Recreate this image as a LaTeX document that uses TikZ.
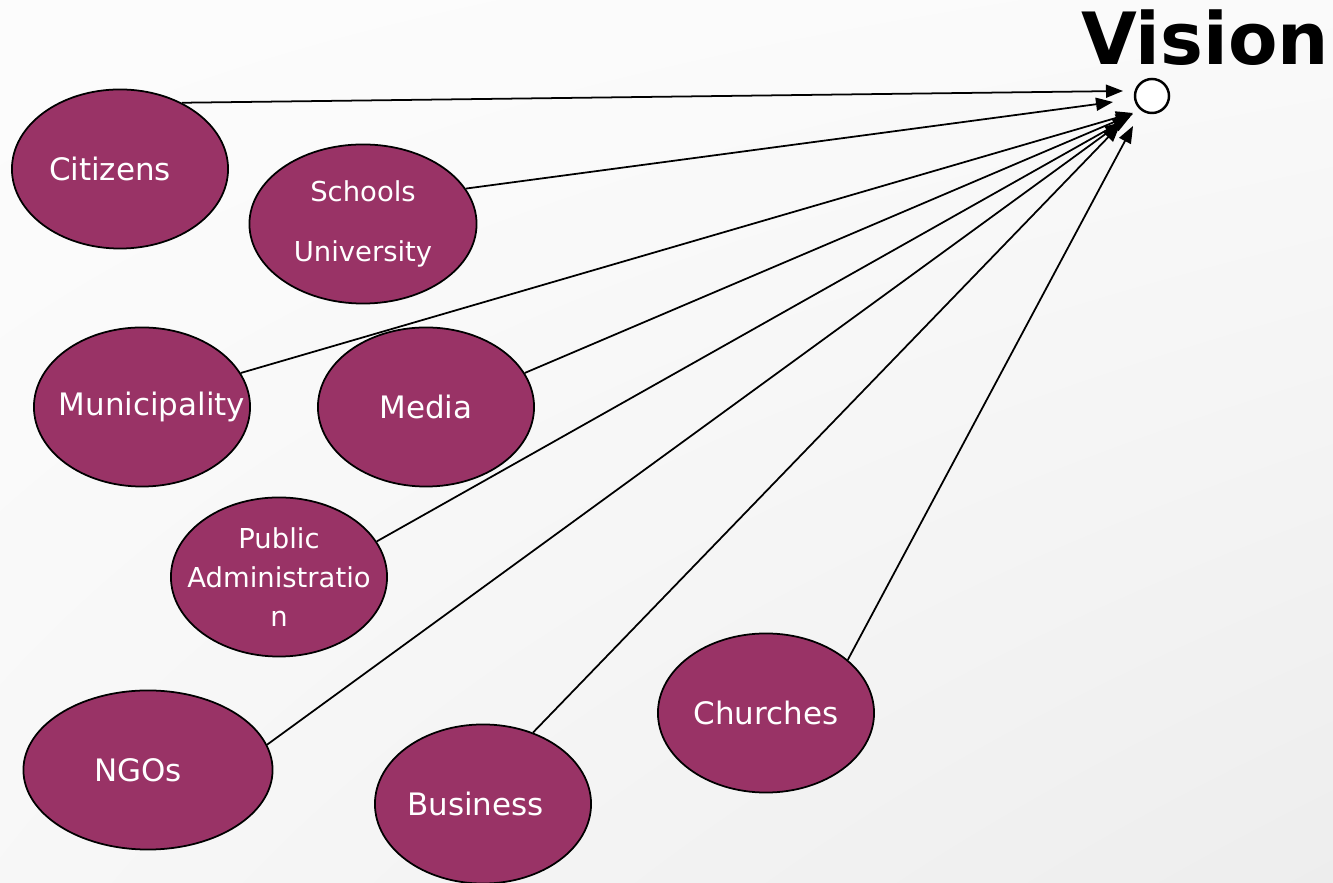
\documentclass[tikz,border=0pt]{standalone}
\usepackage{fontspec}
\setmainfont{DejaVu Sans}
\usetikzlibrary{shapes.geometric, arrows.meta, shadings}
\definecolor{plum}{HTML}{993366}

\begin{document}
\begin{tikzpicture}[
    x=0.01cm, y=-0.01cm,
    actor/.style={draw=black, ellipse, fill=plum, text=white, line width=0.5pt, minimum width=2.16cm, minimum height=1.59cm, inner xsep=-0.8cm, inner ysep=-0.3cm, align=center, font=\fontsize{8.8}{10}\selectfont},
    arrow/.style={-{Triangle[length=0.17cm, width=0.13cm]}, line width=0.5pt}
]
\shade[upper left=black!1, upper right=black!2, lower left=black!3, lower right=black!7] (0,0) rectangle (1333,883);
\useasboundingbox (0,0) rectangle (1333,883);

\node[font=\fontsize{20.5}{24}\selectfont\bfseries] (title) at (1205,38) {Vision};
\node[draw, circle, fill=white, minimum size=0.34cm, inner sep=0pt, line width=0.7pt] (goal) at (1152,96) {};

\node[actor] (cit) at (120,169) {Citizens\hspace*{0.2cm}};
\node[actor, minimum width=2.27cm, font=\fontsize{7.8}{17}\selectfont] (sch) at (363,224) {Schools\\University};
\node[actor] (mun) at (142,407) {\hspace*{0.2cm}Municipality};
\node[actor] (med) at (426,407) {Media};
\node[actor, font=\fontsize{7.8}{11.2}\selectfont] (pub) at (279,577) {Public\\Administratio\\n};
\node[actor, minimum width=2.49cm] (ngo) at (148,770) {NGOs\hspace*{0.2cm}};
\node[actor] (bus) at (483,804) {Business\hspace*{0.15cm}};
\node[actor] (chu) at (766,713) {Churches};

% arrow tips round the goal
\coordinate (tCit) at (1123,91);
\coordinate (tSch) at (1113,102);
\coordinate (tMun) at (1133,113);
\coordinate (tMed) at (1133,114);
\coordinate (tPub) at (1130,117);
\coordinate (tNgo) at (1122,122);
\coordinate (tBus) at (1120,125);
\coordinate (tChu) at (1133,126);

\draw[arrow] (cit.47) -- (tCit);
\draw[arrow] (sch.19) -- (tSch);
\draw[arrow] (mun.19) -- (tMun);
\draw[arrow] (med.19) -- (tMed);
\draw[arrow] (pub.20) -- (tPub);
\draw[arrow] (ngo.12) -- (tNgo);
\draw[arrow] (bus.55) -- (tBus);
\draw[arrow] (chu.33) -- (tChu);

\end{tikzpicture}
\end{document}
